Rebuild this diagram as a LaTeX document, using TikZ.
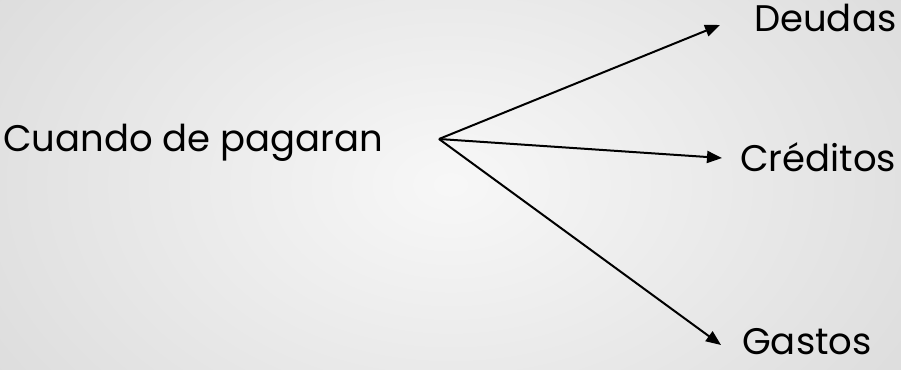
\documentclass[tikz,border=0pt]{standalone}
\usepackage{fontspec}
\setmainfont{Poppins}
\usetikzlibrary{arrows.meta}
\begin{document}
\begin{tikzpicture}[x=1pt,y=1pt,
  lbl/.style={anchor=base west,inner sep=0pt,font=\fontsize{37}{44}\selectfont,text=black},
  arr/.style={line width=2pt,-{Triangle[length=15pt,width=12pt]}}]
\useasboundingbox (0,0) rectangle (901,369);
\shade[inner color=white!97!black,outer color=white!86!black] (-120,-200) rectangle (1021,569);
\node[lbl] (src) at (3,217) {Cuando de pagaran};
\node[lbl] (deudas) at (754,337) {Deudas};
\node[lbl] (creditos) at (740,197) {Créditos};
\node[lbl] (gastos) at (742,14) {Gastos};
\coordinate (fan) at (439,230);
\coordinate (tD) at (720,344);
\coordinate (tC) at (722,211);
\coordinate (tG) at (721,24);
\draw[arr] (fan) -- (tD);
\draw[arr] (fan) -- (tC);
\draw[arr] (fan) -- (tG);
\end{tikzpicture}
\end{document}
